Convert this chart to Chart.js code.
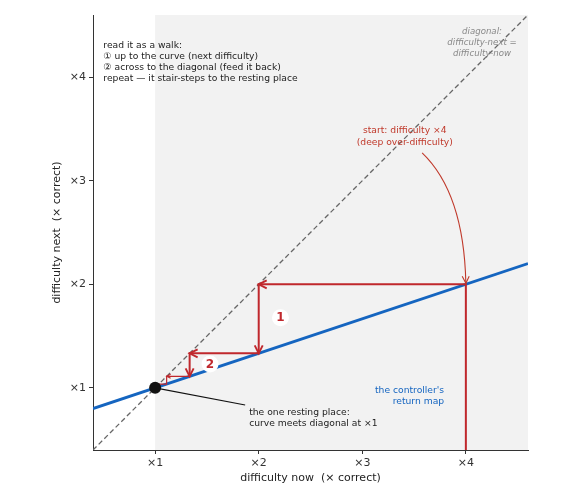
<!DOCTYPE html>
<html><head><meta charset="utf-8">
<script src="https://cdn.jsdelivr.net/npm/chart.js@4"></script>
<style>html,body{margin:0;padding:0;background:#fff}#wrap{width:575px;height:500px;position:relative}</style>
</head><body><div id="wrap"><canvas id="c" width="575" height="500"></canvas></div>
<script>
// ---- data ----
const tickValues = [1, 2, 3, 4];
const tickLabels = ['×1', '×2', '×3', '×4'];
const diagX = [0.4, 4.6], diagY = [0.4, 4.6];           // difficulty next = difficulty now
const mapX = [0.4, 4.6], mapY = [0.8, 2.2];             // controller's return map
const walkX = [4, 4, 2, 2, 1.333, 1.333];               // cobweb walk (main steps)
const walkY = [0.4, 2, 2, 1.333, 1.333, 1.111];
const tailX = [1.333, 1.111, 1.111, 1.037, 1.037];      // cobweb walk (tail)
const tailY = [1.111, 1.111, 1.037, 1.037, 1.012];
const restX = [1], restY = [1];                          // fixed point
const stepLabels = ['1', '2'];
const stepLabelX = [2.21, 1.53], stepLabelY = [1.676, 1.23];

const pts = (xs, ys) => xs.map((x, i) => ({x, y: ys[i]}));
const RED = '#c0282d', RED_T = '#c0392b', BLUE = '#1565c0';
const FONT = '"DejaVu Sans", sans-serif';

function arrowHead(ctx, tx, ty, ang, len, half) {
  const c = Math.cos(ang), s = Math.sin(ang);
  ctx.beginPath();
  ctx.moveTo(tx - len * c + half * s, ty - len * s - half * c);
  ctx.lineTo(tx, ty);
  ctx.lineTo(tx - len * c - half * s, ty - len * s + half * c);
  ctx.stroke();
}

const deco = {
  id: 'deco',
  beforeDraw(chart) {
    const {ctx, chartArea: a, scales: {x}} = chart;
    ctx.save();
    const x1 = x.getPixelForValue(1);
    ctx.fillStyle = '#f2f2f2';
    ctx.fillRect(x1, a.top, a.right - x1, a.bottom - a.top);
    ctx.restore();
  },
  afterDatasetsDraw(chart) {
    const {ctx, scales: {x, y}} = chart;
    const X = v => x.getPixelForValue(v), Y = v => y.getPixelForValue(v);
    ctx.save();
    // arrowheads on the walk
    ctx.strokeStyle = RED; ctx.lineWidth = 1.9; ctx.lineJoin = 'miter';
    for (let i = 1; i < walkX.length - 1; i++) {
      const x0 = X(walkX[i]), y0 = Y(walkY[i]), x1 = X(walkX[i + 1]), y1 = Y(walkY[i + 1]);
      arrowHead(ctx, x1, y1, Math.atan2(y1 - y0, x1 - x0), 8, 4);
    }
    ctx.lineWidth = 1.1;
    {
      const i = 0;
      const x0 = X(tailX[i]), y0 = Y(tailY[i]), x1 = X(tailX[i + 1]), y1 = Y(tailY[i + 1]);
      arrowHead(ctx, x1, y1, Math.atan2(y1 - y0, x1 - x0), 4, 2);
    }
    // step labels
    for (let i = 0; i < stepLabels.length; i++) {
      const px = X(stepLabelX[i]), py = Y(stepLabelY[i]);
      ctx.fillStyle = '#fff';
      ctx.beginPath(); ctx.arc(px, py, 8.5, 0, Math.PI * 2); ctx.fill();
      ctx.fillStyle = RED;
      ctx.font = 'bold 12px ' + FONT;
      ctx.textAlign = 'center'; ctx.textBaseline = 'middle';
      ctx.fillText(stepLabels[i], px, py + 0.5);
    }
    // intro text
    ctx.fillStyle = '#222';
    ctx.font = '9.2px ' + FONT;
    ctx.textAlign = 'left'; ctx.textBaseline = 'middle';
    const intro = ['read it as a walk:', '① up to the curve (next difficulty)', '② across to the diagonal (feed it back)', 'repeat — it stair-steps to the resting place'];
    intro.forEach((t, i) => ctx.fillText(t, X(0.5), 45.5 + i * 11.2));
    // diagonal label
    ctx.fillStyle = '#888';
    ctx.font = 'italic 8.6px ' + FONT;
    ctx.textAlign = 'center';
    ['diagonal:', 'difficulty-next =', 'difficulty-now'].forEach((t, i) => ctx.fillText(t, X(4.156), Y(4.436) + i * 11));
    // start label
    ctx.fillStyle = RED_T;
    ctx.font = '9.2px ' + FONT;
    ['start: difficulty ×4', '(deep over-difficulty)'].forEach((t, i) => ctx.fillText(t, X(3.41), Y(3.48) + i * 11.2));
    // curved arrow to start point
    {
      const sx = X(3.578), sy = Y(3.268), ex = X(4), ey = Y(2) - 1;
      const cx = ex - 2, cy = sy + 40;
      ctx.strokeStyle = RED_T; ctx.lineWidth = 1.1;
      ctx.beginPath(); ctx.moveTo(sx, sy); ctx.quadraticCurveTo(cx, cy, ex, ey); ctx.stroke();
      arrowHead(ctx, ex, ey, Math.atan2(ey - cy, ex - cx), 7, 3.5);
    }
    // return-map label
    ctx.fillStyle = BLUE;
    ctx.font = '9.2px ' + FONT;
    ctx.textAlign = 'right';
    ["the controller's", 'return map'].forEach((t, i) => ctx.fillText(t, X(3.79), Y(0.97) + i * 11));
    // resting-place annotation
    ctx.strokeStyle = '#111'; ctx.lineWidth = 1.1;
    ctx.beginPath(); ctx.moveTo(X(restX[0]), Y(restY[0])); ctx.lineTo(X(1.869), Y(0.834)); ctx.stroke();
    ctx.fillStyle = '#222';
    ctx.textAlign = 'left';
    ['the one resting place:', 'curve meets diagonal at ×1'].forEach((t, i) => ctx.fillText(t, X(1.908), Y(0.757) + i * 10.6));
    // resting dot
    ctx.fillStyle = '#111';
    ctx.beginPath(); ctx.arc(X(restX[0]), Y(restY[0]), 6, 0, Math.PI * 2); ctx.fill();
    ctx.restore();
  }
};

const axisCommon = {
  type: 'linear', min: 0.4, max: 4.6,
  grid: {display: true, drawOnChartArea: false, drawTicks: true, tickLength: 4, color: '#333', lineWidth: 1},
  border: {display: true, color: '#333', width: 1},
  afterBuildTicks: s => { s.ticks = tickValues.map(v => ({value: v})); },
};

new Chart(document.getElementById('c'), {
  type: 'scatter',
  data: {
    datasets: [
      {data: pts(walkX, walkY), showLine: true, borderColor: RED, borderWidth: 2, pointRadius: 0, order: 1},
      {data: pts(tailX, tailY), showLine: true, borderColor: RED, borderWidth: 1.2, pointRadius: 0, order: 1},
      {data: pts(mapX, mapY), showLine: true, borderColor: BLUE, borderWidth: 2.8, pointRadius: 0, order: 2},
      {data: pts(diagX, diagY), showLine: true, borderColor: '#666', borderWidth: 1.3, borderDash: [5, 3], pointRadius: 0, order: 3}
    ]
  },
  options: {
    responsive: false, animation: false, devicePixelRatio: 1,
    layout: {padding: {left: 45, right: 47, top: 15, bottom: 0}},
    plugins: {legend: {display: false}, tooltip: {enabled: false}},
    scales: {
      x: {...axisCommon, position: 'bottom',
        afterFit: s => { s.height = 50; },
        ticks: {color: '#333', font: {family: FONT, size: 11}, padding: 3, maxRotation: 0, autoSkip: false,
          callback: v => tickLabels[tickValues.indexOf(v)]},
        title: {display: true, text: 'difficulty now  (× correct)', color: '#222', font: {family: FONT, size: 11}, padding: {top: 0, bottom: 15}}
      },
      y: {...axisCommon, position: 'left',
        afterFit: s => { s.width = 48; },
        ticks: {color: '#333', font: {family: FONT, size: 11}, padding: 3, autoSkip: false,
          callback: v => tickLabels[tickValues.indexOf(v)]},
        title: {display: true, text: 'difficulty next  (× correct)', color: '#222', font: {family: FONT, size: 11}, padding: {top: 6, bottom: 0}}
      }
    }
  },
  plugins: [deco]
});
</script>
</body></html>
